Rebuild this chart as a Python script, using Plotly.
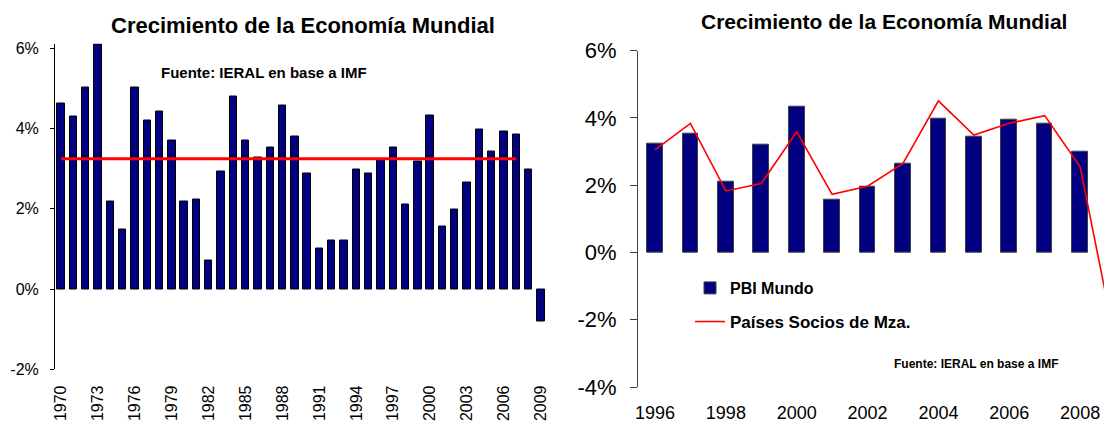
import plotly.graph_objects as go

# ---------------- data ----------------
years = [1970, 1971, 1972, 1973, 1974, 1975, 1976, 1977, 1978, 1979,
         1980, 1981, 1982, 1983, 1984, 1985, 1986, 1987, 1988, 1989,
         1990, 1991, 1992, 1993, 1994, 1995, 1996, 1997, 1998, 1999,
         2000, 2001, 2002, 2003, 2004, 2005, 2006, 2007, 2008, 2009]
pbi_mundo = [4.63, 4.29, 5.02, 6.10, 2.19, 1.48, 5.02, 4.21, 4.42, 3.71,
             2.19, 2.23, 0.71, 2.93, 4.79, 3.71, 3.29, 3.52, 4.58, 3.79,
             2.89, 1.00, 1.21, 1.21, 2.98, 2.89, 3.23, 3.53, 2.11, 3.19,
             4.33, 1.57, 1.98, 2.66, 3.98, 3.43, 3.93, 3.85, 2.99, -0.80]
promedio_years = [1970, 2007]
promedio_values = [3.25, 3.25]

years_r = [1996, 1997, 1998, 1999, 2000, 2001, 2002,
           2003, 2004, 2005, 2006, 2007, 2008, 2009]
pbi_mundo_r = [3.24, 3.54, 2.11, 3.20, 4.34, 1.58, 1.97,
               2.65, 3.99, 3.44, 3.94, 3.84, 3.00, -0.79]
socios_mza = [3.05, 3.84, 1.83, 2.05, 3.59, 1.73, 1.97,
              2.65, 4.51, 3.49, 3.84, 4.07, 2.55, -2.70]

left_ticks = [1970, 1973, 1976, 1979, 1982, 1985, 1988, 1991,
              1994, 1997, 2000, 2003, 2006, 2009]
right_ticks = [1996, 1998, 2000, 2002, 2004, 2006, 2008]
left_yticks = [-2, 0, 2, 4, 6]
left_ytext = ["-2%", "0%", "2%", "4%", "6%"]
right_yticks = [-4, -2, 0, 2, 4, 6]
right_ytext = ["-4%", "-2%", "0%", "2%", "4%", "6%"]

title_text = "Crecimiento de la Economía Mundial"
fuente_text = "Fuente: IERAL en base a IMF"

# The page places the figure 8px from the top-left corner (body margin),
# so the figure is made 8px smaller and positions are offset by 8px.
OFF = 8
W, H = 1112 - OFF, 426 - OFF
FONT = "Liberation Sans, Arial, sans-serif"
NAVY = "#000080"

fig = go.Figure()

# left chart
fig.add_trace(go.Bar(x=years, y=pbi_mundo, width=0.6,
                     marker=dict(color=NAVY, line=dict(color="black", width=1)),
                     xaxis="x", yaxis="y", showlegend=False))
fig.add_trace(go.Scatter(x=promedio_years, y=promedio_values, mode="lines",
                         line=dict(color="#FF0000", width=3),
                         xaxis="x", yaxis="y", showlegend=False))

# right chart
fig.add_trace(go.Bar(x=years_r, y=pbi_mundo_r, width=0.44, name="PBI Mundo",
                     marker=dict(color=NAVY, line=dict(color="#404040", width=1)),
                     xaxis="x2", yaxis="y2", legend="legend"))
fig.add_trace(go.Scatter(x=years_r, y=socios_mza, mode="lines",
                         name="Países Socios de Mza.",
                         line=dict(color="#FF0000", width=1.6),
                         xaxis="x2", yaxis="y2", legend="legend2"))

def px(v):
    return (v - OFF) / W

def py(v):
    return 1 - (v - OFF) / H

fig.update_layout(
    width=W, height=H,
    margin=dict(l=0, r=0, t=0, b=0, autoexpand=False),
    paper_bgcolor="white", plot_bgcolor="white",
    font=dict(family=FONT, color="black"),
    bargap=0,
    xaxis=dict(domain=[px(55), px(547)], range=[1969.5, 2009.5],
               tickvals=left_ticks, ticktext=[str(t) for t in left_ticks],
               tickangle=-90, tickfont=dict(size=16), ticks="",
               showline=False, showgrid=False, zeroline=False,
               ticklabelstandoff=12, automargin=False),
    yaxis=dict(domain=[py(369.3), py(43.5)], range=[-2, 6.12],
               tickvals=left_yticks, ticktext=left_ytext, tickfont=dict(size=16),
               ticks="outside", ticklen=4, tickcolor="black",
               showline=True, linecolor="black", linewidth=1,
               showgrid=False, zeroline=False, ticklabelstandoff=8,
               automargin=False),
    xaxis2=dict(domain=[px(638), 1], range=[1995.52, 2008.9],
                tickvals=right_ticks, ticktext=[str(t) for t in right_ticks],
                tickfont=dict(size=18), ticks="",
                showline=False, showgrid=False, zeroline=False,
                ticklabelstandoff=13, anchor="y2", automargin=False),
    yaxis2=dict(domain=[py(387), py(50.7)], range=[-4, 6],
                tickvals=right_yticks, ticktext=right_ytext, tickfont=dict(size=22),
                ticks="outside", ticklen=7, tickcolor="#404040",
                showline=True, linecolor="#404040", linewidth=1,
                showgrid=False, zeroline=False, ticklabelstandoff=9,
                anchor="x2", automargin=False),
    legend=dict(x=px(690), y=py(288), xanchor="left", yanchor="middle",
                font=dict(size=16, family=FONT, weight="bold"),
                bgcolor="rgba(0,0,0,0)", itemwidth=30),
    legend2=dict(x=px(690), y=py(322), xanchor="left", yanchor="middle",
                 font=dict(size=17, family=FONT, weight="bold"),
                 bgcolor="rgba(0,0,0,0)", itemwidth=30),
    annotations=[
        dict(text="<b>" + title_text + "</b>", x=px(303), y=py(25),
             xref="paper", yref="paper", xanchor="center", yanchor="middle",
             showarrow=False, font=dict(size=22, family=FONT)),
        dict(text="<b>" + title_text + "</b>", x=px(883.5), y=py(22),
             xref="paper", yref="paper", xanchor="center", yanchor="middle",
             showarrow=False, font=dict(size=21, family=FONT)),
        dict(text="<b>" + fuente_text + "</b>", x=px(264), y=py(73),
             xref="paper", yref="paper", xanchor="center", yanchor="middle",
             showarrow=False, font=dict(size=15, family=FONT)),
        dict(text="<b>" + fuente_text + "</b>", x=px(976), y=py(364),
             xref="paper", yref="paper", xanchor="center", yanchor="middle",
             showarrow=False, font=dict(size=12, family=FONT)),
    ],
)

fig.write_html("out.html")
